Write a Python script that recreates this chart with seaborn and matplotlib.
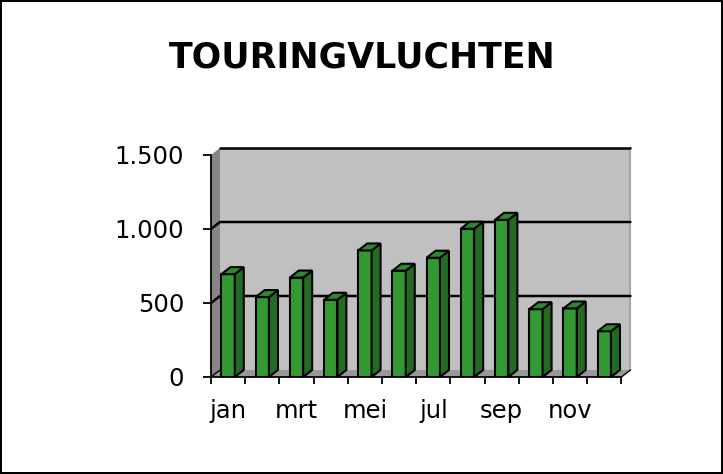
import numpy as np
import pandas as pd
import matplotlib
matplotlib.use("Agg")
import matplotlib.pyplot as plt
from matplotlib.patches import Polygon
import seaborn as sns

# ---- data ----
months = ["jan", "feb", "mrt", "apr", "mei", "jun", "jul", "aug", "sep", "okt", "nov", "dec"]
flights = [695, 540, 672, 522, 855, 718, 806, 1002, 1062, 458, 463, 309]
shown_labels = ["jan", "mrt", "mei", "jul", "sep", "nov"]
y_ticks = [0, 500, 1000, 1500]
y_tick_labels = ["0", "500", "1.000", "1.500"]
title = "TOURINGVLUCHTEN"

df = pd.DataFrame({"maand": months, "vluchten": flights})

sns.set_style("white")
plt.rcParams["font.family"] = ["DejaVu Sans"]
plt.rcParams["text.color"] = "black"
plt.rcParams["xtick.color"] = "black"
plt.rcParams["ytick.color"] = "black"
plt.rcParams["xtick.labelcolor"] = "black"
plt.rcParams["ytick.labelcolor"] = "black"

W, H = 723, 474
fig = plt.figure(figsize=(W / 100, H / 100), dpi=100)
fig.patch.set_facecolor("white")
fig.patch.set_edgecolor("black")
fig.patch.set_linewidth(1.5)

left, right, top, bottom = 211, 621.4, 155, 377
ax = fig.add_axes([left / W, 1 - bottom / H, (right - left) / W, (bottom - top) / H])
ax.set_facecolor("none")

FRONT = "#339933"
SIDE = "#236b23"
TOPC = "#2c8a2c"
LW = 1.5

sns.barplot(data=df, x="maand", y="vluchten", order=months, color=FRONT,
            width=0.39, saturation=1, edgecolor="black", linewidth=LW,
            ax=ax, zorder=3)

ax.set_xlim(-0.5, len(months) - 0.5)
ax.set_ylim(0, 1500)

DX, DY = 9.0, 7.0  # depth offset in pixels


def off(x, y):
    p = ax.transData.transform((x, y))
    return tuple(ax.transData.inverted().transform((p[0] + DX, p[1] + DY)))


x0, x1 = -0.5, len(months) - 0.5
ymax = 1500

bars = [p for p in ax.patches if p.get_zorder() == 3]

# walls and floor
back = Polygon([off(x0, 0), off(x1, 0), off(x1, ymax), off(x0, ymax)],
               closed=True, facecolor="#c0c0c0", edgecolor="none", zorder=0.2, clip_on=False)
leftwall = Polygon([(x0, 0), (x0, ymax), off(x0, ymax), off(x0, 0)],
                   closed=True, facecolor="#868686", edgecolor="none", zorder=0.3, clip_on=False)
floor = Polygon([(x0, 0), (x1, 0), off(x1, 0), off(x0, 0)],
                closed=True, facecolor="#989898", edgecolor="none", zorder=0.3, clip_on=False)
for p in (back, leftwall, floor):
    ax.add_patch(p)

# right edge of the back wall and floor edges
ex, ey = zip(off(x1, 0), off(x1, ymax))
ax.plot(ex, ey, color="#a8a8a8", lw=1.6, zorder=0.4, clip_on=False)
fx, fy = zip((x1, 0), off(x1, 0))
ax.plot(fx, fy, color="black", lw=1.0, zorder=0.4, clip_on=False)
fx, fy = zip((x0, 0), off(x0, 0))
ax.plot(fx, fy, color="black", lw=1.0, zorder=0.4, clip_on=False)

# gridlines on back and left walls
for v in y_ticks[1:-1]:
    pts = [(x0, v), off(x0, v), off(x1, v)]
    gx, gy = zip(*pts)
    ax.plot(gx, gy, color="black", lw=1.8, zorder=0.5, clip_on=False)
tx, ty = zip(off(x0, ymax), off(x1, ymax))
ax.plot(tx, ty, color="black", lw=1.8, zorder=0.5, clip_on=False)

# 3D faces of the bars
for bar in bars:
    bx = bar.get_x()
    bw = bar.get_width()
    bh = bar.get_height()
    side = Polygon([(bx + bw, 0), (bx + bw, bh), off(bx + bw, bh), off(bx + bw, 0)],
                   closed=True, facecolor=SIDE, edgecolor="black", lw=LW, zorder=3,
                   clip_on=False, joinstyle="miter")
    topf = Polygon([(bx, bh), (bx + bw, bh), off(bx + bw, bh), off(bx, bh)],
                   closed=True, facecolor=TOPC, edgecolor="black", lw=LW, zorder=3,
                   clip_on=False, joinstyle="miter")
    ax.add_patch(side)
    ax.add_patch(topf)

# axes
for s in ("top", "right"):
    ax.spines[s].set_visible(False)
for s in ("left", "bottom"):
    ax.spines[s].set_color("black")
    ax.spines[s].set_linewidth(1.3)
    ax.spines[s].set_zorder(4)

ax.set_yticks(y_ticks)
ax.set_yticklabels(y_tick_labels)
ax.tick_params(axis="y", which="major", direction="out", length=5.8, width=1.3,
               color="black", labelcolor="black", pad=13.5, labelsize=17.5, left=True)

pos = [months.index(m) for m in shown_labels]
ax.set_xticks(pos)
ax.set_xticklabels(shown_labels)
ax.set_xticks(np.arange(x0, x1 + 0.01, 1.0), minor=True)
ax.tick_params(axis="x", which="major", length=0, pad=16, labelsize=17.5,
               labelcolor="black", bottom=True)
ax.tick_params(axis="x", which="minor", direction="out", length=5, width=1.3,
               color="black", bottom=True)

ax.set_xlabel("")
ax.set_ylabel("")
ax.grid(False)

fig.text(362 / W, 1 - 57 / H, title, ha="center", va="center",
         fontsize=25, fontweight="bold", color="black")

fig.savefig("out.png", dpi=100)
